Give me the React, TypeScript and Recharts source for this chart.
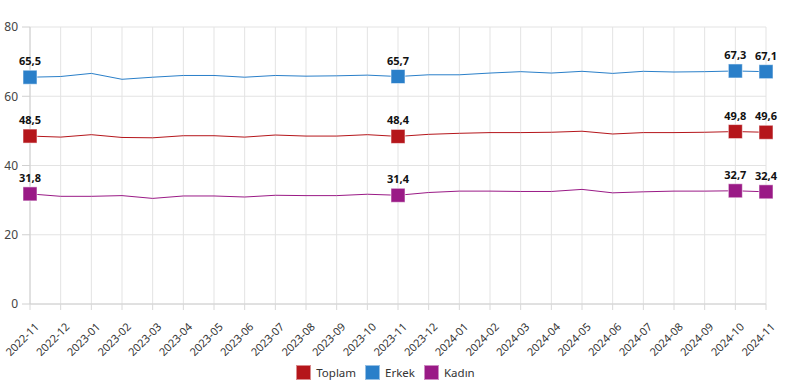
import React from "react";
import { LineChart, Line, XAxis, YAxis, CartesianGrid, Legend } from "recharts";

const aylar = [
  "2022-11", "2022-12", "2023-01", "2023-02", "2023-03", "2023-04", "2023-05",
  "2023-06", "2023-07", "2023-08", "2023-09", "2023-10", "2023-11", "2023-12",
  "2024-01", "2024-02", "2024-03", "2024-04", "2024-05", "2024-06", "2024-07",
  "2024-08", "2024-09", "2024-10", "2024-11",
];

const toplam = [
  48.5, 48.2, 48.9, 48.1, 48.0, 48.6, 48.6, 48.2, 48.8, 48.5, 48.5, 48.9, 48.4,
  49.0, 49.3, 49.5, 49.5, 49.6, 49.9, 49.1, 49.5, 49.5, 49.6, 49.8, 49.6,
];
const erkek = [
  65.5, 65.7, 66.6, 64.9, 65.5, 66.0, 66.0, 65.5, 66.0, 65.8, 65.9, 66.1, 65.7,
  66.2, 66.2, 66.7, 67.1, 66.7, 67.2, 66.6, 67.2, 67.0, 67.1, 67.3, 67.1,
];
const kadin = [
  31.8, 31.1, 31.1, 31.3, 30.5, 31.2, 31.2, 30.9, 31.4, 31.3, 31.3, 31.7, 31.4,
  32.2, 32.6, 32.6, 32.5, 32.5, 33.1, 32.1, 32.4, 32.6, 32.6, 32.7, 32.4,
];

const seriler = [
  { anahtar: "Toplam", ad: "Toplam", renk: "#b5161b" },
  { anahtar: "Erkek", ad: "Erkek", renk: "#2a7fc9" },
  { anahtar: "Kadin", ad: "Kadın", renk: "#9a1a86" },
];

const yTikler = [0, 20, 40, 60, 80];
const etiketliNoktalar = [0, 12, 23, 24];

const veri = aylar.map((ay, i) => ({
  ay,
  Toplam: toplam[i],
  Erkek: erkek[i],
  Kadin: kadin[i],
}));

const FONT = "'Segoe UI', 'Noto Sans', sans-serif";

function kareNokta(renk: string) {
  return (props: any) => {
    const { cx, cy, index } = props;
    if (!etiketliNoktalar.includes(index)) return <g key={index} />;
    return (
      <rect
        key={index}
        x={cx - 7}
        y={cy - 7}
        width={14}
        height={14}
        fill={renk}
        stroke="rgba(255,255,255,0.55)"
        strokeWidth={1}
      />
    );
  };
}

function degerEtiketi(props: any) {
  const { x, y, value, index } = props;
  if (!etiketliNoktalar.includes(index)) return null;
  return (
    <text
      x={x}
      y={y - 12}
      textAnchor="middle"
      fontSize={11}
      fontWeight="bold"
      fill="#111"
      fontFamily={FONT}
    >
      {Number(value).toFixed(1).replace(".", ",")}
    </text>
  );
}

function XTik(props: any) {
  const { x, y, payload } = props;
  return (
    <g transform={`translate(${x + 4},${y + 10})`}>
      <text
        transform="rotate(-45)"
        textAnchor="end"
        dy={8}
        fontSize={11}
        fill="#333"
        fontFamily={FONT}
      >
        {payload.value}
      </text>
    </g>
  );
}

function Lejant() {
  return (
    <div
      style={{
        display: "flex",
        justifyContent: "center",
        alignItems: "center",
        fontFamily: FONT,
        fontSize: 11.5,
        color: "#333",
        height: 20,
        paddingLeft: 14,
      }}
    >
      {seriler.map((s) => (
        <span key={s.anahtar} style={{ display: "inline-flex", alignItems: "center", marginRight: 9 }}>
          <span
            style={{
              display: "inline-block",
              width: 13,
              height: 13,
              background: s.renk,
              border: "1px solid rgba(255,255,255,0.5)",
              marginRight: 5,
            }}
          />
          {s.ad}
        </span>
      ))}
    </div>
  );
}

export default function App() {
  return (
    <div style={{ position: "fixed", left: 0, top: 0, width: 792, height: 383, background: "#fff" }}>
      <LineChart
        width={792}
        height={383}
        data={veri}
        margin={{ top: 27, right: 26, left: 0, bottom: 1 }}
      >
        <CartesianGrid stroke="#e3e3e3" />
        <XAxis
          dataKey="ay"
          interval={0}
          height={58}
          tick={<XTik />}
          tickLine={{ stroke: "#d8d8d8" }}
          axisLine={{ stroke: "#d0d0d0" }}
          tickSize={6}
        />
        <YAxis
          domain={[0, 80]}
          ticks={yTikler}
          width={30}
          tick={{ fill: "#444", fontSize: 12, fontFamily: FONT }}
          tickLine={{ stroke: "#d0d0d0" }}
          axisLine={{ stroke: "#d0d0d0" }}
          tickSize={8}
          tickMargin={4}
        />
        <Legend verticalAlign="bottom" height={20} content={<Lejant />} />
        {seriler.map((s) => (
          <Line
            key={s.anahtar}
            dataKey={s.anahtar}
            name={s.ad}
            stroke={s.renk}
            strokeWidth={1}
            dot={kareNokta(s.renk)}
            activeDot={false}
            label={degerEtiketi}
            isAnimationActive={false}
          />
        ))}
      </LineChart>
    </div>
  );
}
